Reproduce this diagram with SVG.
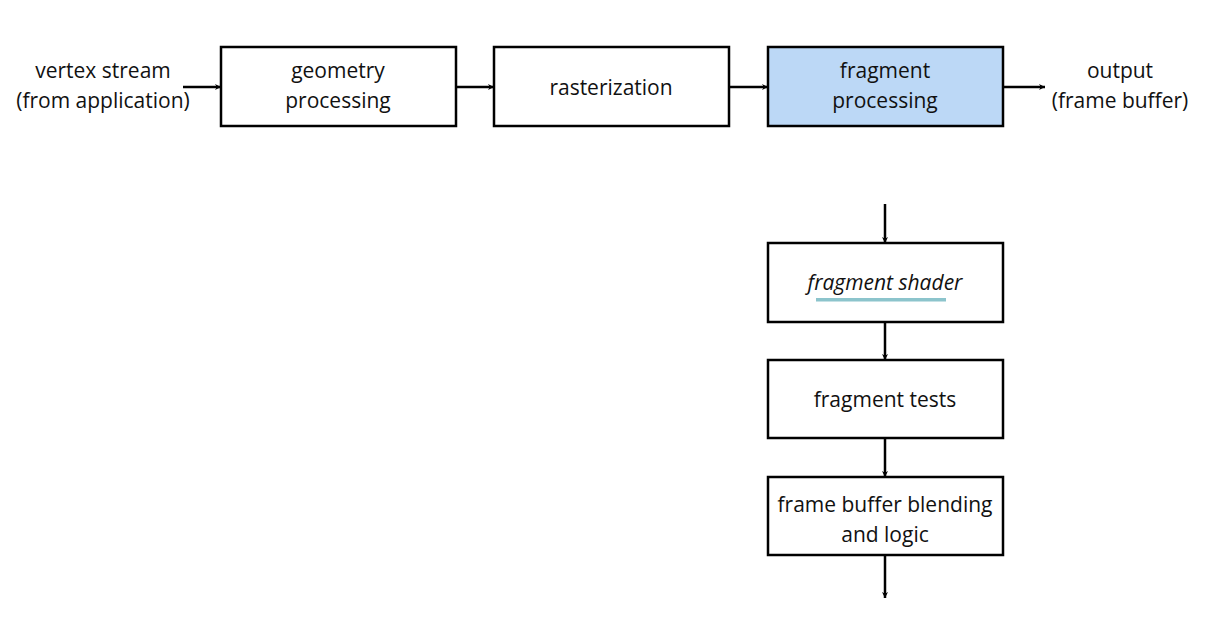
<svg xmlns="http://www.w3.org/2000/svg" width="1211" height="629" viewBox="0 0 1211 629">
<style>
.b{fill:#fff;stroke:#000;stroke-width:2.5}
.h{fill:#bcd8f6}
text{font-family:"Open Sans","Noto Sans",sans-serif;font-size:21px;fill:#111;text-anchor:middle}
.c line{stroke:#000;stroke-width:2.5;marker-end:url(#a)}
</style>
<defs><marker id="a" viewBox="0 0 10 10" refX="10" refY="5" markerWidth="6" markerHeight="6" markerUnits="userSpaceOnUse" orient="auto"><path d="M0,0 L10,5 L0,10 L3,5 z" fill="#000"/></marker></defs>
<rect width="1211" height="629" fill="#fff"/>
<g id="vertex"><text x="103" y="78">vertex stream</text><text x="103" y="108">(from application)</text></g>
<g id="geometry"><rect class="b" x="221" y="47" width="235" height="79"/><text x="338" y="78">geometry</text><text x="338" y="108">processing</text></g>
<g id="raster"><rect class="b" x="494" y="47" width="235" height="79"/><text x="611" y="95">rasterization</text></g>
<g id="fragment"><rect class="b h" x="768" y="47" width="235" height="79"/><text x="885" y="78">fragment</text><text x="885" y="108">processing</text></g>
<g id="output"><text x="1120" y="78">output</text><text x="1120" y="108">(frame buffer)</text></g>
<g id="shader"><rect class="b" x="768" y="243" width="235" height="79"/><text x="885" y="290" font-style="italic">fragment shader</text><rect x="816" y="298" width="130" height="3.5" fill="#8cc4cc"/></g>
<g id="tests"><rect class="b" x="768" y="360" width="235" height="78"/><text x="885" y="407">fragment tests</text></g>
<g id="blend"><rect class="b" x="768" y="477" width="235" height="78"/><text x="885" y="512">frame buffer blending</text><text x="885" y="542">and logic</text></g>
<g class="c">
<line x1="183" y1="87" x2="221" y2="87"/>
<line x1="456" y1="87" x2="494" y2="87"/>
<line x1="729" y1="87" x2="768" y2="87"/>
<line x1="1003" y1="87" x2="1045" y2="87"/>
<line x1="885" y1="204" x2="885" y2="243"/>
<line x1="885" y1="322" x2="885" y2="360"/>
<line x1="885" y1="438" x2="885" y2="477"/>
<line x1="885" y1="555" x2="885" y2="598"/>
</g>
</svg>
